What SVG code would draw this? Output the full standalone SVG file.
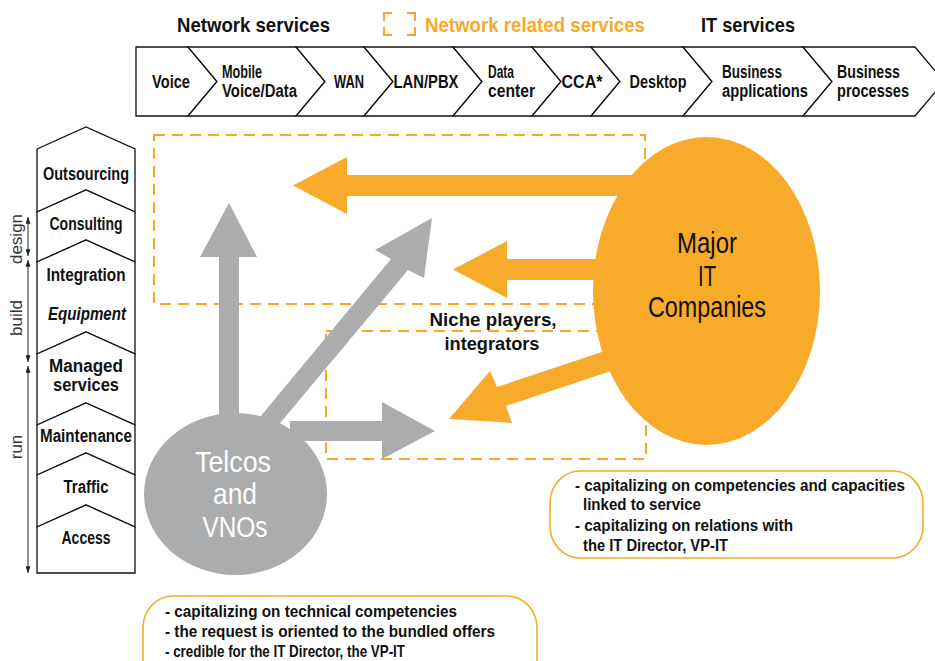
<svg xmlns="http://www.w3.org/2000/svg" width="935" height="661" viewBox="0 0 935 661">
<style>
  .t{font-family:"Liberation Sans",Arial,sans-serif;font-weight:bold;fill:#111;}
  .lbl{font-size:18px;text-anchor:middle;}
  .l2{font-size:18px;}
  .hd{font-size:21px;}
  .bx{fill:#fff;stroke:#111;stroke-width:1.3;}
  .dash{fill:none;stroke:#F7A629;stroke-width:2;stroke-dasharray:11 7;}
  .or{fill:#F8AA2A;}
  .gr{fill:#ABACAD;}
  .bub{fill:#fff;stroke:#F8AA2A;stroke-width:1.6;}
  .bt{font-size:16.5px;}
  .ax{stroke:#222;stroke-width:1;fill:none;}
  .axl{font-family:"Liberation Sans",Arial,sans-serif;font-size:17px;fill:#333;text-anchor:middle;}
</style>
<defs>
  <marker id="ah" viewBox="0 0 8 6" refX="8" refY="3" markerWidth="8" markerHeight="5" markerUnits="userSpaceOnUse" orient="auto-start-reverse">
    <path d="M0,0 L8,3 L0,6 z" fill="#222"/>
  </marker>
</defs>

<!-- header / legend -->
<g id="legend">
  <text class="t hd" x="177" y="32" textLength="153" lengthAdjust="spacingAndGlyphs">Network services</text>
  <g fill="none" stroke="#F7A629" stroke-width="2">
    <path d="M384,21 V13 H392"/>
    <path d="M407,13 H415 V21"/>
    <path d="M415,27 V35 H407"/>
    <path d="M392,35 H384 V27"/>
  </g>
  <text class="t hd" x="425" y="32" style="fill:#F8A92B" textLength="220" lengthAdjust="spacingAndGlyphs">Network related services</text>
  <text class="t hd" x="701" y="32" textLength="94" lengthAdjust="spacingAndGlyphs">IT services</text>
</g>

<!-- top value chain -->
<g id="chain">
  <g id="c-voice"><polygon class="bx" points="136,47 188,47 217,81.5 188,116 136,116"/>
    <text class="t lbl" x="171" y="88" textLength="38" lengthAdjust="spacingAndGlyphs">Voice</text></g>
  <g id="c-mobile"><polygon class="bx" points="188,47 296,47 325,81.5 296,116 188,116 217,81.5"/>
    <text class="t l2" x="222" y="78" textLength="40" lengthAdjust="spacingAndGlyphs">Mobile</text>
    <text class="t l2" x="222" y="97" textLength="75" lengthAdjust="spacingAndGlyphs">Voice/Data</text></g>
  <g id="c-wan"><polygon class="bx" points="296,47 364,47 393,81.5 364,116 296,116 325,81.5"/>
    <text class="t lbl" x="349" y="88" textLength="30" lengthAdjust="spacingAndGlyphs">WAN</text></g>
  <g id="c-lan"><polygon class="bx" points="364,47 453,47 482,81.5 453,116 364,116 393,81.5"/>
    <text class="t lbl" x="426" y="88" textLength="65" lengthAdjust="spacingAndGlyphs">LAN/PBX</text></g>
  <g id="c-dc"><polygon class="bx" points="453,47 532,47 561,81.5 532,116 453,116 482,81.5"/>
    <text class="t l2" x="488" y="78" textLength="26" lengthAdjust="spacingAndGlyphs">Data</text>
    <text class="t l2" x="488" y="97" textLength="47" lengthAdjust="spacingAndGlyphs">center</text></g>
  <g id="c-cca"><polygon class="bx" points="532,47 591,47 620,81.5 591,116 532,116 561,81.5"/>
    <text class="t lbl" x="582" y="88" textLength="41" lengthAdjust="spacingAndGlyphs">CCA*</text></g>
  <g id="c-desk"><polygon class="bx" points="591,47 683,47 712,81.5 683,116 591,116 620,81.5"/>
    <text class="t lbl" x="658" y="88" textLength="57" lengthAdjust="spacingAndGlyphs">Desktop</text></g>
  <g id="c-bapp"><polygon class="bx" points="683,47 803,47 832,81.5 803,116 683,116 712,81.5"/>
    <text class="t l2" x="722" y="78" textLength="60" lengthAdjust="spacingAndGlyphs">Business</text>
    <text class="t l2" x="722" y="97" textLength="86" lengthAdjust="spacingAndGlyphs">applications</text></g>
  <g id="c-bproc"><polygon class="bx" points="803,47 915,47 944,81.5 915,116 803,116 832,81.5"/>
    <text class="t l2" x="837" y="78" textLength="63" lengthAdjust="spacingAndGlyphs">Business</text>
    <text class="t l2" x="837" y="97" textLength="72" lengthAdjust="spacingAndGlyphs">processes</text></g>
</g>

<!-- left column -->
<g id="stack">
  <g id="s-outsourcing"><polygon class="bx" points="37,149 86,127 135,149 135,212 86,190 37,212"/>
    <text class="t lbl" x="86" y="180" textLength="86" lengthAdjust="spacingAndGlyphs">Outsourcing</text></g>
  <g id="s-consulting"><polygon class="bx" points="37,212 86,190 135,212 135,262 86,240 37,262"/>
    <text class="t lbl" x="86" y="230" textLength="73" lengthAdjust="spacingAndGlyphs">Consulting</text></g>
  <g id="s-integration"><polygon class="bx" points="37,262 86,240 135,262 135,354 86,332 37,354"/>
    <text class="t lbl" x="86" y="281" textLength="79" lengthAdjust="spacingAndGlyphs">Integration</text>
    <text class="t lbl" x="87" y="320" font-style="italic" textLength="78" lengthAdjust="spacingAndGlyphs">Equipment</text></g>
  <g id="s-managed"><polygon class="bx" points="37,354 86,332 135,354 135,425 86,403 37,425"/>
    <text class="t lbl" x="86" y="372" textLength="74" lengthAdjust="spacingAndGlyphs">Managed</text>
    <text class="t lbl" x="86" y="391" textLength="66" lengthAdjust="spacingAndGlyphs">services</text></g>
  <g id="s-maintenance"><polygon class="bx" points="37,425 86,403 135,425 135,475 86,453 37,475"/>
    <text class="t lbl" x="86" y="442" textLength="92" lengthAdjust="spacingAndGlyphs">Maintenance</text></g>
  <g id="s-traffic"><polygon class="bx" points="37,475 86,453 135,475 135,527 86,505 37,527"/>
    <text class="t lbl" x="86" y="493" textLength="45" lengthAdjust="spacingAndGlyphs">Traffic</text></g>
  <g id="s-access"><polygon class="bx" points="37,527 86,505 135,527 135,573 37,573"/>
    <text class="t lbl" x="86" y="544" textLength="49" lengthAdjust="spacingAndGlyphs">Access</text></g>
</g>

<!-- axis -->
<g id="axis">
  <line class="ax" x1="28" y1="256" x2="28" y2="217" marker-start="url(#ah)" marker-end="url(#ah)"/>
  <line class="ax" x1="28" y1="362" x2="28" y2="260" marker-start="url(#ah)" marker-end="url(#ah)"/>
  <line class="ax" x1="28" y1="573" x2="28" y2="366" marker-start="url(#ah)" marker-end="url(#ah)"/>
  <text class="axl" transform="translate(22,239) rotate(-90)">design</text>
  <text class="axl" transform="translate(22,318) rotate(-90)">build</text>
  <text class="axl" transform="translate(22,447) rotate(-90)">run</text>
</g>

<!-- dashed zones -->
<g id="zones">
  <rect class="dash" x="154" y="135" width="491" height="169"/>
  <rect class="dash" x="326" y="331" width="320" height="128"/>
</g>

<!-- connectors -->
<g id="connectors">
  <polygon class="or" points="293,185.5 347,157 347,175 660,175 660,196 347,196 347,214"/>
  <polygon class="or" points="453,269.5 507,241 507,259 640,259 640,280 507,280 507,298"/>
  <polygon class="or" points="449,419 490,371 497,387 650,336 650,358 506,406 512,423"/>
  <polygon class="gr" points="229,203 257,257 239,257 239,450 219,450 219,257 200,257"/>
  <polygon class="gr" points="432,218 424,278 408,270 266,440 241,440 391,259 375,250"/>
  <polygon class="gr" points="290,421 382,421 382,402 435,431 382,459 382,441 290,441"/>
</g>

<g id="niche">
  <text class="t" style="font-size:18.5px;text-anchor:middle" x="493" y="326" textLength="127" lengthAdjust="spacingAndGlyphs">Niche players,</text>
  <text class="t" style="font-size:18.5px;text-anchor:middle" x="492" y="350" textLength="95" lengthAdjust="spacingAndGlyphs">integrators</text>
</g>

<g id="major">
  <ellipse class="or" cx="706.5" cy="291" rx="113.5" ry="154"/>
  <g font-family="Liberation Sans, Arial, sans-serif" font-size="29" fill="#111" text-anchor="middle">
    <text x="707" y="253" textLength="60" lengthAdjust="spacingAndGlyphs">Major</text>
    <text x="707" y="286" textLength="18" lengthAdjust="spacingAndGlyphs">IT</text>
    <text x="707" y="317" textLength="118" lengthAdjust="spacingAndGlyphs">Companies</text>
  </g>
</g>

<g id="telcos">
  <ellipse class="gr" cx="235.5" cy="494" rx="91.5" ry="81"/>
  <g font-family="Liberation Sans, Arial, sans-serif" font-size="30" fill="#fff" text-anchor="middle">
    <text x="233" y="472" textLength="76" lengthAdjust="spacingAndGlyphs">Telcos</text>
    <text x="235" y="504" textLength="44" lengthAdjust="spacingAndGlyphs">and</text>
    <text x="235" y="537" textLength="65" lengthAdjust="spacingAndGlyphs">VNOs</text>
  </g>
</g>

<g id="note-it">
  <rect class="bub" x="550" y="471" width="373" height="87" rx="30" ry="32"/>
  <text class="t bt" x="575" y="491" textLength="330" lengthAdjust="spacingAndGlyphs">- capitalizing on competencies and capacities</text>
  <text class="t bt" x="583" y="510" textLength="118" lengthAdjust="spacingAndGlyphs">linked to service</text>
  <text class="t bt" x="575" y="531" textLength="218" lengthAdjust="spacingAndGlyphs">- capitalizing on relations with</text>
  <text class="t bt" x="583" y="551" textLength="145" lengthAdjust="spacingAndGlyphs">the IT Director, VP-IT</text>
</g>

<g id="note-telco">
  <rect class="bub" x="143" y="596" width="394" height="95" rx="30" ry="32"/>
  <text class="t bt" x="165" y="617" textLength="292" lengthAdjust="spacingAndGlyphs">- capitalizing on technical competencies</text>
  <text class="t bt" x="165" y="637" textLength="330" lengthAdjust="spacingAndGlyphs">- the request is oriented to the bundled offers</text>
  <text class="t bt" x="165" y="657" textLength="240" lengthAdjust="spacingAndGlyphs">- credible for the IT Director, the VP-IT</text>
</g>
</svg>
